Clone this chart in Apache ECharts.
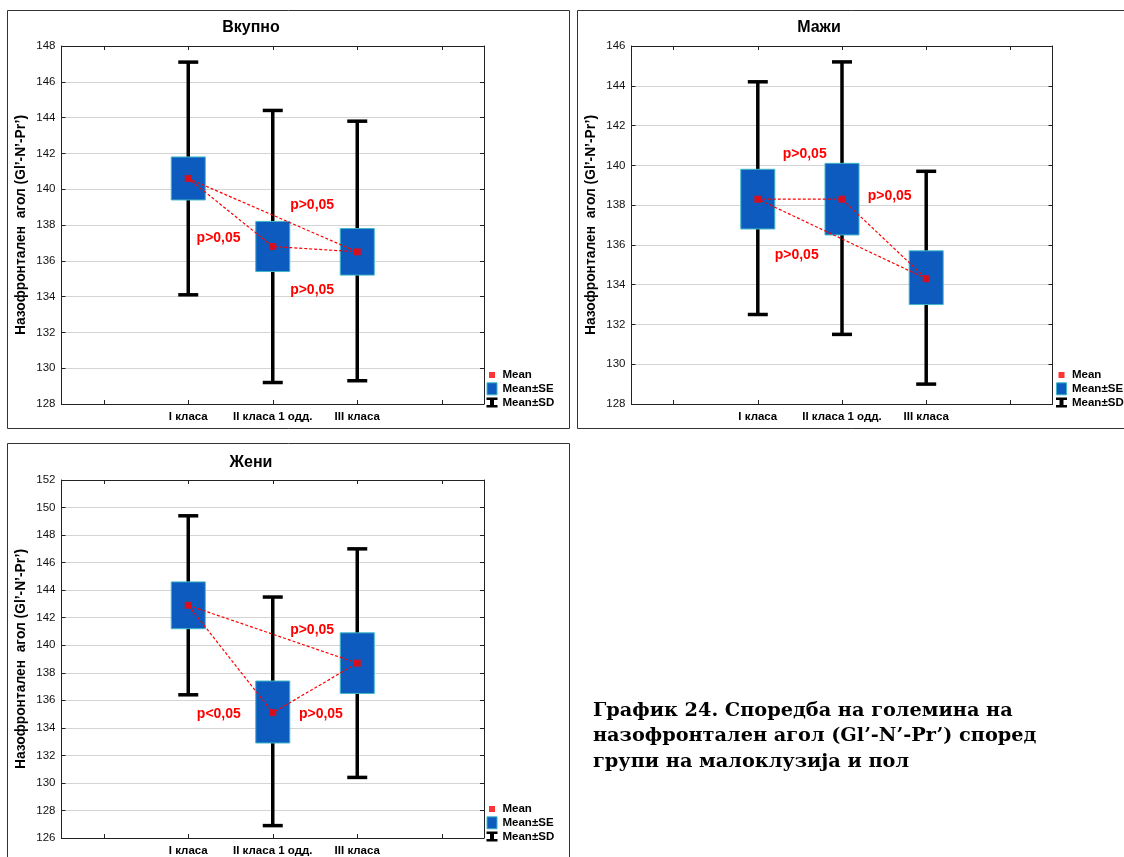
<!DOCTYPE html>
<html>
<head>
<meta charset="utf-8">
<title>Назофронтален агол</title>
<script src="https://cdn.jsdelivr.net/npm/echarts@6/dist/echarts.min.js"></script>
<style>
  html, body { margin: 0; padding: 0; background: #fff; }
  #chart { width: 1124px; height: 857px; }
</style>
</head>
<body>
<div id="chart"></div>
<script>
// ---- data -------------------------------------------------------------
const categories = ['I класа', 'II класа 1 одд.', 'III класа'];

// Вкупно
const totalMean   = [140.6, 136.8, 136.5];
const totalSeLow  = [139.4, 135.4, 135.2];
const totalSeHigh = [141.8, 138.2, 137.8];
const totalSdLow  = [134.1, 129.2, 129.3];
const totalSdHigh = [147.1, 144.4, 143.8];
const totalP      = ['p>0,05', 'p>0,05', 'p>0,05'];

// Мажи
const maleMean   = [138.3, 138.3, 134.3];
const maleSeLow  = [136.8, 136.5, 133.0];
const maleSeHigh = [139.8, 140.1, 135.7];
const maleSdLow  = [132.5, 131.5, 129.0];
const maleSdHigh = [144.2, 145.2, 139.7];
const maleP      = ['p>0,05', 'p>0,05', 'p>0,05'];

// Жени
const femaleMean   = [142.9, 135.1, 138.7];
const femaleSeLow  = [141.2, 132.9, 136.5];
const femaleSeHigh = [144.6, 137.4, 140.9];
const femaleSdLow  = [136.4, 126.9, 130.4];
const femaleSdHigh = [149.4, 143.5, 147.0];
const femaleP      = ['p>0,05', 'p<0,05', 'p>0,05'];

// y-axis ranges
const totalRange  = [128, 148];
const maleRange   = [128, 146];
const femaleRange = [126, 152];
const yStep = 2;

const yName = 'Назофронтален  агол (Gl’-N’-Pr’)';
const caption = 'График 24. Споредба на големина на\nназофронтален агол (Gl’-N’-Pr’) според\nгрупи на малоклузија и пол';

// ---- layout -----------------------------------------------------------
const SANS = '"Liberation Sans", Arial, sans-serif';
const panels = [
  { title: 'Вкупно', grid: { left: 61.5, top: 46, width: 422.5, height: 358 }, titleAt: [251, 28],
    frame: [7.5, 10.5, 562, 418], legendAt: [486.5, 369],
    mean: totalMean, seLow: totalSeLow, seHigh: totalSeHigh, sdLow: totalSdLow, sdHigh: totalSdHigh,
    range: totalRange, pText: totalP,
    pAt: [[2.466, 139.12], [1.359, 137.27], [2.466, 134.37]] },
  { title: 'Мажи', grid: { left: 631.5, top: 46, width: 421, height: 358 }, titleAt: [819, 28],
    frame: [577.5, 10.5, 560, 418], legendAt: [1056, 369],
    mean: maleMean, seLow: maleSeLow, seHigh: maleSeHigh, sdLow: maleSdLow, sdHigh: maleSdHigh,
    range: maleRange, pText: maleP,
    pAt: [[1.557, 140.57], [2.566, 138.46], [1.462, 135.49]] },
  { title: 'Жени', grid: { left: 61.5, top: 480, width: 422.5, height: 358 }, titleAt: [251, 463],
    frame: [7.5, 443.5, 562, 430], legendAt: [486.5, 803],
    mean: femaleMean, seLow: femaleSeLow, seHigh: femaleSeHigh, sdLow: femaleSdLow, sdHigh: femaleSdHigh,
    range: femaleRange, pText: femaleP,
    pAt: [[2.466, 141.11], [1.362, 135.0], [2.57, 135.0]] }
];

const BOX_BLUE = '#0D5BBE';
const BOX_EDGE = '#3FB6C6';

// ---- render helpers ---------------------------------------------------
function renderSD(params, api) {
  const x = api.value(0);
  const lo = api.coord([x, api.value(1)]);
  const hi = api.coord([x, api.value(2)]);
  const hw = 10;
  const style = { stroke: '#000', lineWidth: 3.5 };
  return {
    type: 'group',
    children: [
      { type: 'line', shape: { x1: lo[0], y1: lo[1], x2: hi[0], y2: hi[1] }, style },
      { type: 'line', shape: { x1: lo[0] - hw, y1: lo[1], x2: lo[0] + hw, y2: lo[1] }, style },
      { type: 'line', shape: { x1: hi[0] - hw, y1: hi[1], x2: hi[0] + hw, y2: hi[1] }, style }
    ]
  };
}

function renderSE(params, api) {
  const x = api.value(0);
  const lo = api.coord([x, api.value(1)]);
  const hi = api.coord([x, api.value(2)]);
  const w = 34;
  return {
    type: 'rect',
    shape: { x: lo[0] - w / 2, y: hi[1], width: w, height: lo[1] - hi[1] },
    style: { fill: BOX_BLUE, stroke: BOX_EDGE, lineWidth: 1 }
  };
}

function renderNote(params, api) {
  const p = api.coord([api.value(0), api.value(1)]);
  return {
    type: 'text',
    x: p[0], y: p[1],
    style: {
      text: api.value(2),
      fill: '#ff0000',
      font: 'bold 14px ' + SANS,
      align: 'center',
      verticalAlign: 'middle'
    }
  };
}

// ---- build option -----------------------------------------------------
const grids = [], xAxes = [], yAxes = [], series = [], legends = [], graphics = [];

panels.forEach((pn, g) => {
  grids.push(Object.assign({ containLabel: false, show: false }, pn.grid));

  const xBase = {
    type: 'value', gridIndex: g, min: -0.5, max: 4.5,
    axisLine: { show: true, onZero: false, lineStyle: { color: '#222', width: 1 } },
    axisTick: { show: true, inside: true, length: 4, customValues: [0, 1, 2, 3, 4],
      lineStyle: { color: '#222', width: 1 } },
    splitLine: { show: false }
  };
  xAxes.push(Object.assign({}, xBase, {
    position: 'bottom',
    axisLabel: {
      show: true, customValues: [1, 2, 3], margin: 7,
      formatter: v => categories[Math.round(v) - 1] || '',
      color: '#000', fontFamily: SANS, fontWeight: 'bold', fontSize: 11.5
    }
  }));
  xAxes.push(Object.assign({}, xBase, { position: 'top', axisLabel: { show: false } }));

  const yBase = {
    type: 'value', gridIndex: g, min: pn.range[0], max: pn.range[1], interval: yStep,
    axisLine: { show: true, onZero: false, lineStyle: { color: '#222', width: 1 } },
    axisTick: { show: true, inside: true, length: 4, lineStyle: { color: '#222', width: 1 } }
  };
  yAxes.push(Object.assign({}, yBase, {
    position: 'left',
    name: yName, nameLocation: 'middle', nameGap: 33, nameRotate: 90,
    nameTextStyle: { color: '#000', fontFamily: SANS, fontWeight: 'bold', fontSize: 13.8 },
    axisLabel: { show: true, margin: 6, color: '#111', fontFamily: SANS, fontSize: 11.5 },
    splitLine: { show: true, lineStyle: { color: '#a9a9a9', width: 1, type: 'dotted' } }
  }));
  yAxes.push(Object.assign({}, yBase, {
    position: 'right', axisLabel: { show: false }, splitLine: { show: false }
  }));

  const xi = 2 * g, yi = 2 * g;

  series.push({
    name: 'Mean±SD', type: 'custom', xAxisIndex: xi, yAxisIndex: yi,
    renderItem: renderSD, encode: { x: 0, y: [1, 2] }, z: 2,
    itemStyle: { color: '#000' },
    data: categories.map((c, i) => [i + 1, pn.sdLow[i], pn.sdHigh[i]])
  });
  series.push({
    name: 'Mean±SE', type: 'custom', xAxisIndex: xi, yAxisIndex: yi,
    renderItem: renderSE, encode: { x: 0, y: [1, 2] }, z: 3,
    itemStyle: { color: BOX_BLUE },
    data: categories.map((c, i) => [i + 1, pn.seLow[i], pn.seHigh[i]])
  });
  // dashed links between the group means
  const links = [0, 1, 2, 0].map(i => [i + 1, pn.mean[i]]);
  series.push({
    name: 'links', type: 'line', xAxisIndex: xi, yAxisIndex: yi,
    data: links, symbol: 'none', z: 4, silent: true,
    lineStyle: { color: '#ff0000', width: 1.2, type: [3, 2] }
  });
  series.push({
    name: 'Mean', type: 'scatter', xAxisIndex: xi, yAxisIndex: yi,
    symbol: 'rect', symbolSize: 7, z: 5,
    itemStyle: { color: '#ff0000' },
    data: categories.map((c, i) => [i + 1, pn.mean[i]])
  });
  series.push({
    name: 'p', type: 'custom', xAxisIndex: xi, yAxisIndex: yi,
    renderItem: renderNote, z: 6, silent: true,
    encode: { x: 0, y: 1 },
    data: pn.pText.map((t, i) => [pn.pAt[i][0], pn.pAt[i][1], t])
  });

  legends.push({
    orient: 'vertical', left: pn.legendAt[0], top: pn.legendAt[1],
    padding: 0, itemGap: 1.3, itemWidth: 11, itemHeight: 12,
    selectedMode: false,
    textStyle: { color: '#000', fontFamily: SANS, fontWeight: 'bold', fontSize: 11.5, lineHeight: 12 },
    data: [
      { name: 'Mean', icon: 'path://M0,0M11,12M2.5,3h6v6h-6z', itemStyle: { color: '#ff0000' } },
      { name: 'Mean±SE', icon: 'path://M0.5,0h10v12h-10z',
        itemStyle: { color: BOX_BLUE, borderColor: BOX_EDGE, borderWidth: 1 } },
      { name: 'Mean±SD', icon: 'path://M0,0M11,12M0,1h11v2.5h-3.5v5h3.5v2.5h-11v-2.5h3.5v-5h-3.5z',
        itemStyle: { color: '#000' } }
    ]
  });

  graphics.push({
    type: 'rect', silent: true, z: -1,
    shape: { x: pn.frame[0], y: pn.frame[1], width: pn.frame[2], height: pn.frame[3] },
    style: { fill: 'none', stroke: '#333', lineWidth: 1 }
  });
  graphics.push({
    type: 'text', silent: true, x: pn.titleAt[0], y: pn.titleAt[1],
    style: { text: pn.title, fill: '#000', font: 'bold 16px ' + SANS, align: 'center', verticalAlign: 'middle' }
  });
});

graphics.push({
  type: 'text', silent: true, x: 593, y: 698,
  style: {
    text: caption, fill: '#000',
    font: 'bold 19.3px "DejaVu Serif", "Liberation Serif", serif',
    lineHeight: 25.5, align: 'left', verticalAlign: 'top'
  }
});

const chart = echarts.init(document.getElementById('chart'), null, { renderer: 'canvas' });
chart.setOption({
  backgroundColor: '#ffffff',
  animation: false,
  grid: grids,
  xAxis: xAxes,
  yAxis: yAxes,
  legend: legends,
  graphic: graphics,
  series: series
});
</script>
</body>
</html>
